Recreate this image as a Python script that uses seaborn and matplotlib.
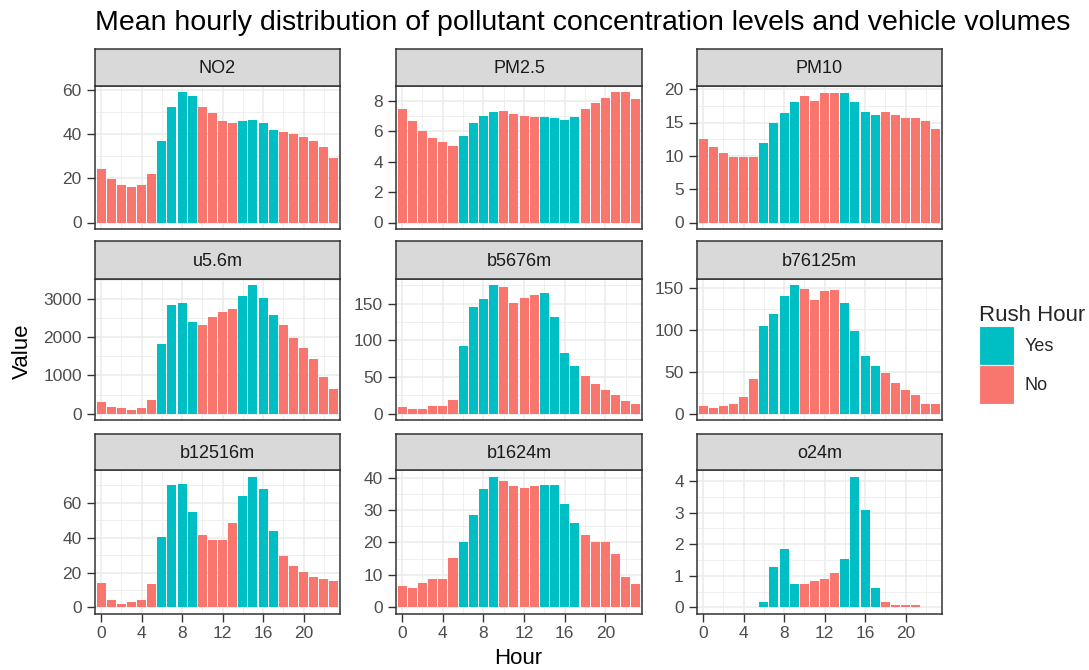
import numpy as np
import pandas as pd
import matplotlib
matplotlib.use("Agg")
import matplotlib.pyplot as plt
from matplotlib.patches import Patch
from matplotlib.ticker import MultipleLocator, AutoMinorLocator
import seaborn as sns

# ---------------- data ----------------
hours = list(range(24))
rush_hours = [6, 7, 8, 9, 14, 15, 16, 17]

facet_names = ["NO2", "PM2.5", "PM10", "u5.6m", "b5676m", "b76125m",
               "b12516m", "b1624m", "o24m"]

no2 = [24.2, 19.7, 17.0, 16.3, 17.0, 21.9, 37.1, 52.4, 58.9, 57.3, 52.4, 49.4,
       45.9, 45.1, 45.9, 46.6, 45.3, 42.1, 40.9, 40.0, 38.7, 37.1, 34.0, 29.2]
pm25 = [7.50, 6.67, 6.00, 5.60, 5.28, 5.06, 5.72, 6.56, 7.05, 7.29, 7.38, 7.18,
        7.05, 6.96, 6.96, 6.87, 6.78, 6.96, 7.49, 7.85, 8.22, 8.57, 8.57, 8.11]
pm10 = [12.5, 11.3, 10.4, 9.9, 9.9, 9.9, 12.0, 15.0, 16.4, 18.1, 19.0, 18.3,
        19.5, 19.5, 19.5, 18.1, 16.6, 16.1, 16.6, 16.1, 15.7, 15.7, 15.2, 14.0]
u56m = [295, 182, 147, 95, 147, 347, 1839, 2862, 2905, 2402, 2333, 2541,
        2671, 2758, 3079, 3365, 3044, 2585, 2333, 1995, 1709, 1422, 971, 642]
b5676m = [8.5, 5.8, 5.8, 10.3, 10.3, 18.9, 91.6, 145, 156, 175, 173, 151,
          158, 162.5, 164, 132, 83, 65.6, 51.2, 40, 32, 25, 16.6, 12.6]
b76125m = [9, 7, 9, 11, 20, 40.8, 104, 119, 140.5, 153, 149, 136,
           146, 147, 132, 99, 68.7, 57, 48.7, 36.5, 28, 22, 12, 11]
b12516m = [14.1, 4.0, 1.9, 3.1, 4.0, 13.2, 40.5, 70.0, 71.1, 54.7, 41.3, 38.6,
           38.6, 48.5, 63.8, 75.1, 67.8, 43.8, 29.4, 23.9, 20.4, 17.4, 16.6, 14.9]
b1624m = [6.5, 5.9, 7.5, 8.7, 8.7, 15.2, 20.1, 28.4, 36.4, 40.3, 38.9, 37.4,
          36.8, 37.4, 37.7, 37.7, 32.0, 26.0, 22.3, 20.0, 20.0, 16.4, 9.3, 7.1]
o24m = [0, 0, 0, 0, 0, 0, 0.18, 1.28, 1.84, 0.73, 0.73, 0.84,
        0.89, 1.08, 1.52, 4.14, 3.08, 0.63, 0.18, 0.07, 0.07, 0.07, 0, 0]

series = [no2, pm25, pm10, u56m, b5676m, b76125m, b12516m, b1624m, o24m]
y_steps = [20, 2, 5, 1000, 50, 50, 20, 10, 1]

x_ticks = [0, 4, 8, 12, 16, 20]
legend_labels = ["Yes", "No"]

title = "Mean hourly distribution of pollutant concentration levels and vehicle volumes"

rows = []
for name, vals in zip(facet_names, series):
    for h, v in zip(hours, vals):
        rows.append({"variable": name, "Hour": h, "Value": v,
                     "Rush Hour": "Yes" if h in rush_hours else "No"})
df = pd.DataFrame(rows)

# ---------------- style ----------------
sns.set_theme(style="white")
plt.rcParams["font.family"] = ["Liberation Sans", "DejaVu Sans"]

TEAL = "#00BFC4"
SALMON = "#F8766D"
palette = {"Yes": TEAL, "No": SALMON}
GRID = "#EBEBEB"
BORDER = "#333333"
TICKTXT = "#4D4D4D"

W, H = 1089, 670
fig = plt.figure(figsize=(W / 100, H / 100), dpi=100)

col_x = [(95, 340), (396, 642), (697, 942)]
row_y = [(49, 86, 229), (241, 279, 420), (434, 470, 614)]


def fbox(x0, x1, ytop, ybot):
    return [x0 / W, 1 - ybot / H, (x1 - x0) / W, (ybot - ytop) / H]


for i, name in enumerate(facet_names):
    r, c = divmod(i, 3)
    x0, x1 = col_x[c]
    st, sb, pb = row_y[r]
    ax = fig.add_axes(fbox(x0, x1, sb, pb))
    sub = df[df["variable"] == name]
    sns.barplot(data=sub, x="Hour", y="Value", hue="Rush Hour",
                hue_order=legend_labels, palette=palette, dodge=False,
                native_scale=True, width=0.9, errorbar=None, legend=False,
                saturation=1, linewidth=0, ax=ax, zorder=3)
    ymax = sub["Value"].max()
    ax.set_ylim(-0.05 * ymax, 1.05 * ymax)
    ax.set_xlim(-0.6, 23.6)
    ax.set_xticks(x_ticks)
    ax.xaxis.set_minor_locator(MultipleLocator(2))
    ax.yaxis.set_major_locator(MultipleLocator(y_steps[i]))
    ax.yaxis.set_minor_locator(AutoMinorLocator(2))
    ax.grid(which="major", color=GRID, linewidth=1.1, zorder=0)
    ax.grid(which="minor", color=GRID, linewidth=0.55, zorder=0)
    ax.set_axisbelow(True)
    ax.set_xlabel("")
    ax.set_ylabel("")
    for s in ax.spines.values():
        s.set_color(BORDER)
        s.set_linewidth(1.1)
    ax.tick_params(axis="y", which="major", length=5.5, width=1.0, color=BORDER,
                   labelsize=12.5, labelcolor=TICKTXT, pad=4, left=True)
    ax.tick_params(which="minor", length=0)
    if r == 2:
        ax.tick_params(axis="x", which="major", length=5.5, width=1.0, color=BORDER,
                       labelsize=12.5, labelcolor=TICKTXT, pad=3.5, bottom=True)
    else:
        ax.tick_params(axis="x", which="major", length=0, labelbottom=False)
    ax.set_facecolor("white")

    # strip
    sax = fig.add_axes(fbox(x0, x1, st, sb))
    sax.set_facecolor("#D9D9D9")
    sax.set_xticks([])
    sax.set_yticks([])
    for s in sax.spines.values():
        s.set_color(BORDER)
        s.set_linewidth(1.1)
    sax.text(0.5, 0.47, name, transform=sax.transAxes, ha="center", va="center",
             fontsize=13, color="#1A1A1A")

fig.text(95 / W, 1 - 23 / H, title, ha="left", va="center", fontsize=20.5,
         color="black")
fig.text(22 / W, 1 - 351 / H, "Value", rotation=90, ha="center", va="center",
         fontsize=16, color="black")
fig.text(518 / W, 1 - 659 / H, "Hour", ha="center", va="center",
         fontsize=16, color="black")

handles = [Patch(facecolor=palette[k], edgecolor="white", linewidth=0.8)
           for k in legend_labels]
leg = fig.legend(handles, legend_labels, title="Rush Hour",
                 loc="upper left", bbox_to_anchor=(972 / W, 1 - 298 / H),
                 frameon=False, fontsize=13, title_fontsize=16,
                 handlelength=1.9, handleheight=2.95, labelspacing=0.0,
                 handletextpad=0.6, alignment="left", borderaxespad=0)

fig.savefig("out.png", dpi=100, facecolor="white")
